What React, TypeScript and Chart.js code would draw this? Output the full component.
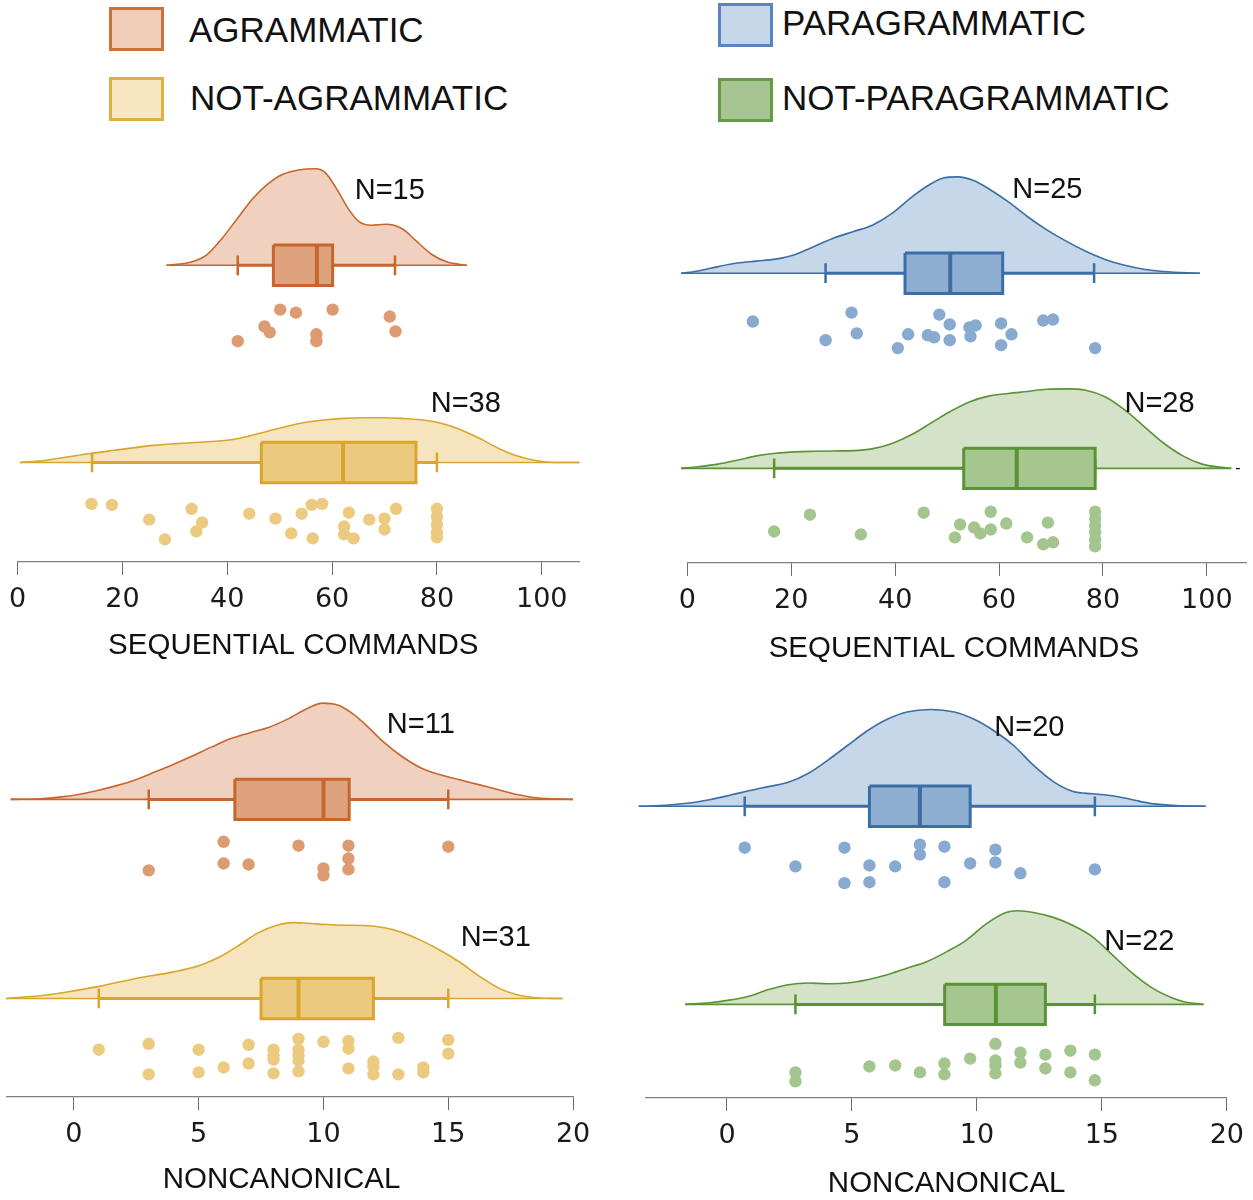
import React, { useEffect, useRef } from 'react';
import { Chart, registerables } from 'chart.js';

Chart.register(...registerables);

// ---------------- tick labels & titles ----------------
const SEQ_TICKS = [0, 20, 40, 60, 80, 100];
const NONCAN_TICKS = [0, 5, 10, 15, 20];
const SEQ_TITLE = 'SEQUENTIAL COMMANDS';
const NONCAN_TITLE = 'NONCANONICAL';
const LEGEND_LABELS = ['AGRAMMATIC', 'NOT-AGRAMMATIC', 'PARAGRAMMATIC', 'NOT-PARAGRAMMATIC'];

// ---------------- Agrammatic – sequential commands (N=15) ----------------
const agSeqN = 'N=15';
const agSeqDensX = [28.4, 33.1, 36.1, 39.0, 41.9, 44.8, 47.7, 50.6, 53.6, 56.9, 58.7, 60.9, 63.1, 65.2, 67.4, 70.3, 73.3, 76.2, 79.1, 82.0, 85.7];
const agSeqDensH = [0, 3.3, 10.7, 27.3, 47.3, 67.3, 82.3, 92.3, 96.7, 98, 94, 77.3, 57.3, 44, 40.7, 41.7, 37.3, 24, 10.7, 3.3, 0];
const agSeqBox = [42.0, 48.8, 57.1, 60.1, 72.0]; // min, q1, median, q3, max
const agSeqDots = [50.1, 53.1, 60.1, 71.0, 47.1, 48.1, 42.0, 57.0, 57.0, 72.1];
const agSeqJitter = [45, 48, 45, 52, 62, 68, 77, 70, 77, 67];

// ---------------- Not-agrammatic – sequential commands (N=38) ----------------
const notAgSeqN = 'N=38';
const notAgSeqDensX = [0.44, 3.9, 7.6, 14.2, 18.5, 25.8, 33.1, 40.4, 44.1, 47.7, 51.4, 55.0, 58.7, 62.3, 66.0, 69.6, 73.3, 76.9, 80.6, 84.2, 87.9, 91.5, 95.2, 98.8, 102.5, 107.2];
const notAgSeqDensH = [0, 1.3, 4, 9.3, 12.3, 17.3, 20, 22.7, 26.7, 31.7, 36.7, 40.7, 43.3, 44.7, 45.3, 45.3, 44.7, 43.3, 40, 34, 25, 15, 6.7, 2, 0, 0];
const notAgSeqBox = [14.2, 46.5, 62.1, 76.0, 80.0];
const notAgSeqDots = [14.1, 18.0, 25.1, 28.1, 33.2, 35.2, 34.1, 44.2, 49.2, 52.2, 54.2, 56.1, 58.1, 56.3, 62.3, 62.3, 63.2, 64.1, 67.1, 70.0, 70.0, 72.2, 80, 80, 80, 80, 80];
const notAgSeqJitter = [42, 43, 58, 78, 47, 61, 70, 52, 57, 72, 52, 43, 42, 77, 65, 73, 51, 77, 58, 57, 68, 47, 47, 55, 63, 71, 76];

// ---------------- Paragrammatic – sequential commands (N=25) ----------------
const paraSeqN = 'N=25';
const paraSeqDensX = [-1.22, 2.1, 5.9, 9.6, 13.3, 17.0, 20.8, 24.5, 28.2, 32.0, 35.7, 39.4, 43.2, 46.9, 49.1, 52.1, 55.1, 58.0, 61.8, 65.5, 69.2, 73.0, 76.7, 80.4, 84.2, 87.9, 91.6, 98.7];
const paraSeqDensH = [0, 2.3, 6.7, 10.3, 12.3, 14.3, 19, 27.3, 35.7, 42.3, 49, 60.7, 77.3, 90.7, 96.3, 97.7, 94, 85.7, 72.3, 57.3, 44, 32.3, 22.3, 14, 8, 4, 1.7, 0];
const paraSeqBox = [26.6, 41.9, 50.6, 60.7, 78.3];
const paraSeqDots = [12.6, 31.6, 32.6, 26.6, 40.5, 42.5, 46.3, 47.5, 48.5, 50.5, 50.5, 54.3, 55.5, 54.5, 60.4, 62.4, 60.4, 68.5, 70.4, 78.5];
const paraSeqJitter = [49, 40, 61, 68, 76, 62, 63, 65, 42, 52, 68, 55, 53, 64, 51, 62, 73, 48, 47, 76];

// ---------------- Not-paragrammatic – sequential commands (N=28) ----------------
const notParaSeqN = 'N=28';
const notParaSeqDensX = [-1.22, 2.1, 5.9, 9.6, 13.3, 17.0, 20.8, 24.5, 28.2, 32.0, 35.7, 39.4, 43.2, 46.9, 50.6, 54.4, 58.0, 61.8, 65.5, 69.2, 73.0, 76.7, 80.4, 84.2, 87.9, 91.6, 95.4, 99.1, 102.8, 104.7];
const notParaSeqDensH = [0, 1.7, 4.3, 8.3, 12.7, 15.3, 16.7, 17.3, 17.7, 18, 20, 25.3, 34.3, 46, 57.7, 67.7, 73.3, 76, 78, 80.3, 80.7, 79.3, 72.7, 59.3, 42.7, 26, 12.7, 4.3, 1, 0];
const notParaSeqBox = [16.7, 53.2, 63.4, 78.5, 78.5];
const notParaSeqDots = [16.7, 23.6, 33.4, 45.5, 52.5, 51.5, 55.2, 56.4, 58.4, 58.4, 61.4, 65.4, 69.4, 68.5, 70.4, 78.5, 78.5, 78.5, 78.5, 78.5, 78.5];
const notParaSeqJitter = [64, 47, 67, 45, 57, 70, 60, 66, 44, 62, 56, 70, 55, 77, 75, 44, 51, 58, 65, 72, 79];

// ---------------- Agrammatic – noncanonical (N=11) ----------------
const agNonN = 'N=11';
const agNonDensX = [-2.53, -1.34, -0.58, 0.19, 0.95, 1.71, 2.48, 3.24, 4.0, 4.77, 5.53, 6.29, 7.06, 7.82, 8.58, 9.35, 9.96, 10.57, 11.18, 11.79, 12.4, 13.16, 13.93, 14.69, 15.45, 16.22, 16.98, 17.75, 18.51, 19.99];
const agNonDensH = [0, 0.7, 2.3, 5, 9, 14, 20, 27.7, 35.7, 44.3, 53.3, 61.7, 67.7, 73.3, 81.7, 92.3, 97.7, 95.7, 86.7, 73.3, 58.3, 43.3, 31.7, 25, 20, 15, 10, 5, 1.7, 0];
const agNonBox = [3, 6.45, 10, 11.03, 15];
const agNonDots = [6, 6, 3, 7, 9, 10, 10, 11, 11, 11, 15];
const agNonJitter = [43, 65, 72, 66, 47, 70, 77, 47, 60, 71, 48];

// ---------------- Not-agrammatic – noncanonical (N=31) ----------------
const notAgNonN = 'N=31';
const notAgNonDensX = [-2.72, -1.34, -0.58, 0.95, 2.48, 4.0, 5.07, 5.83, 6.6, 7.36, 8.13, 8.74, 9.35, 10.11, 10.87, 11.64, 12.4, 13.16, 13.93, 14.69, 15.45, 16.22, 16.98, 17.75, 18.51, 19.58];
const notAgNonDensH = [0, 2.7, 5.3, 12, 20.3, 27, 33.7, 42, 53.7, 66.3, 74.3, 77, 76.3, 75, 74.3, 74, 72, 67, 58.7, 48.7, 37, 23, 11, 3.7, 0.7, 0];
const notAgNonBox = [1, 7.5, 9, 12, 15];
const notAgNonDots = [1, 3, 3, 5, 5, 6, 7, 7, 8, 8, 8, 8, 9, 9, 9, 9, 9, 10, 11, 11, 11, 12, 12, 12, 13, 13, 14, 14, 15, 15];
const notAgNonJitter = [52, 46, 77, 52, 75, 70, 47, 66, 52, 58, 62, 76, 41, 52, 58, 63, 74, 44, 43, 51, 71, 64, 69, 77, 40, 77, 70, 75, 42, 56];

// ---------------- Paragrammatic – noncanonical (N=20) ----------------
const paraNonN = 'N=20';
const paraNonDensX = [-3.53, -2.3, -1.51, -0.71, 0.08, 0.87, 1.66, 2.45, 3.24, 4.03, 4.82, 5.62, 6.41, 7.2, 8.15, 9.1, 9.89, 10.68, 11.47, 12.26, 13.06, 13.85, 14.64, 15.43, 16.22, 17.01, 17.96, 19.15];
const paraNonDensH = [0, 1.3, 3.3, 6.7, 11, 15.7, 20, 24.3, 33.3, 46.7, 61.7, 76.7, 88.3, 95.7, 98.3, 95.7, 88.3, 76.7, 61.7, 41.7, 25, 15, 12.7, 10.7, 6.7, 2.7, 0.7, 0];
const paraNonBox = [0.71, 5.7, 7.72, 9.73, 14.72];
const paraNonDots = [0.71, 2.74, 4.7, 4.7, 5.7, 5.7, 6.73, 7.72, 7.72, 8.7, 8.7, 9.73, 10.74, 10.74, 11.74, 14.72];
const paraNonJitter = [42, 61, 42, 78, 60, 77, 61, 39, 49, 41, 77, 58, 44, 57, 68, 64];

// ---------------- Not-paragrammatic – noncanonical (N=22) ----------------
const notParaNonN = 'N=22';
const notParaNonDensX = [-1.67, -0.71, 0.08, 0.87, 1.66, 2.45, 3.24, 4.03, 4.82, 5.62, 6.41, 7.2, 7.99, 8.78, 9.57, 10.37, 11.16, 11.63, 12.26, 13.06, 13.85, 14.64, 15.43, 16.22, 17.01, 17.8, 18.28, 19.07];
const notParaNonDensH = [0, 1.7, 4.3, 8.3, 15, 20, 21.7, 21, 21.7, 25, 30, 36.7, 43.3, 53.3, 65, 81.7, 93.3, 95, 93.3, 88.3, 80, 68.3, 50, 31.7, 16.7, 6.7, 2.7, 0];
const notParaNonBox = [2.74, 8.71, 10.76, 12.74, 14.72];
const notParaNonDots = [2.74, 2.74, 5.7, 6.73, 7.72, 8.7, 8.7, 9.73, 10.74, 10.74, 10.74, 10.74, 11.74, 11.74, 12.74, 12.74, 13.74, 13.74, 14.72, 14.72];
const notParaNonJitter = [69, 78, 63, 62, 69, 60, 71, 55, 40, 57, 62, 70, 49, 59, 51, 65, 47, 69, 51, 77];

// ---------------- styles ----------------
const ORANGE = { line: '#c6662d', dens: '#f0d1bf', box: '#dea27c', dot: '#dd9b71', legFill: '#f0cdb9', legBorder: '#c87439' };
const YELLOW = { line: '#d9a62b', dens: '#f6e4bd', box: '#ebca7f', dot: '#eccb80', legFill: '#f7e6c0', legBorder: '#ddb240' };
const BLUE = { line: '#3b6ea6', dens: '#c6d7e9', box: '#8fafd2', dot: '#88a9d0', legFill: '#c6d7ea', legBorder: '#5686bb' };
const GREEN = { line: '#5b9236', dens: '#d4e3c8', box: '#a6c690', dot: '#a5c58f', legFill: '#a7c592', legBorder: '#649b48' };

const TEXT_FONT = '"Liberation Sans", Arial, sans-serif';
const BOX_HALF = 20.5;
const CAP_HALF = 10;

type Group = { n: string; densX: number[]; densH: number[]; box: number[]; dots: number[]; jitter: number[] };
const G = (n: string, densX: number[], densH: number[], box: number[], dots: number[], jitter: number[]): Group => ({ n, densX, densH, box, dots, jitter });

const PANELS = [
  {
    left: 0, top: 130, width: 626, height: 542, axisY: 562, areaLeft: 17.6, areaRight: 579.5, xMin: 0, xMax: 107.2,
    ticks: SEQ_TICKS, title: SEQ_TITLE, titleX: 52.6, titleY: 647,
    rows: [
      { g: G(agSeqN, agSeqDensX, agSeqDensH, agSeqBox, agSeqDots, agSeqJitter), base: 261, c: ORANGE, nx: 71.0, ny: 186 },
      { g: G(notAgSeqN, notAgSeqDensX, notAgSeqDensH, notAgSeqBox, notAgSeqDots, notAgSeqJitter), base: 461, c: YELLOW, nx: 85.5, ny: 402 },
    ],
    extra: [] as any[],
  },
  {
    left: 626, top: 130, width: 627, height: 542, axisY: 563, areaLeft: 687.4, areaRight: 1252, xMin: 0, xMax: 107.7,
    ticks: SEQ_TICKS, title: SEQ_TITLE, titleX: 51.3, titleY: 650,
    rows: [
      { g: G(paraSeqN, paraSeqDensX, paraSeqDensH, paraSeqBox, paraSeqDots, paraSeqJitter), base: 269, c: BLUE, nx: 69.3, ny: 185 },
      { g: G(notParaSeqN, notParaSeqDensX, notParaSeqDensH, notParaSeqBox, notParaSeqDots, notParaSeqJitter), base: 467, c: GREEN, nx: 90.9, ny: 402 },
    ],
    extra: [{ text: '-', x: 106, y: 467, size: 16, sx: 1 }],
  },
  {
    left: 0, top: 672, width: 626, height: 528, axisY: 1097, areaLeft: 4, areaRight: 573.1, xMin: -2.71, xMax: 20,
    ticks: NONCAN_TICKS, title: NONCAN_TITLE, titleX: 8.32, titleY: 1181,
    rows: [
      { g: G(agNonN, agNonDensX, agNonDensH, agNonBox, agNonDots, agNonJitter), base: 795, c: ORANGE, nx: 13.9, ny: 719 },
      { g: G(notAgNonN, notAgNonDensX, notAgNonDensH, notAgNonBox, notAgNonDots, notAgNonJitter), base: 997, c: YELLOW, nx: 16.9, ny: 936 },
    ],
    extra: [] as any[],
  },
  {
    left: 626, top: 672, width: 627, height: 528, axisY: 1098, areaLeft: 646, areaRight: 1229.4, xMin: -3.24, xMax: 20,
    ticks: NONCAN_TICKS, title: NONCAN_TITLE, titleX: 8.79, titleY: 1185,
    rows: [
      { g: G(paraNonN, paraNonDensX, paraNonDensH, paraNonBox, paraNonDots, paraNonJitter), base: 802, c: BLUE, nx: 12.1, ny: 723 },
      { g: G(notParaNonN, notParaNonDensX, notParaNonDensH, notParaNonBox, notParaNonDots, notParaNonJitter), base: 1003, c: GREEN, nx: 16.5, ny: 940 },
    ],
    extra: [] as any[],
  },
];

function rowDatasets(g: Group, base: number, c: typeof ORANGE): any[] {
  const [mn, q1, md, q3, mx] = g.box;
  const common = { type: 'line', pointRadius: 0, pointHoverRadius: 0, clip: false, tension: 0 };
  const last = g.densX.length - 1;
  return [
    {
      type: 'scatter', data: g.dots.map((x, i) => ({ x, y: base + g.jitter[i] })),
      pointRadius: 6.2, pointHoverRadius: 6.2, backgroundColor: c.dot, borderWidth: 0, order: 1, clip: false,
    },
    { ...common, data: [{ x: md, y: base - BOX_HALF }, { x: md, y: base + BOX_HALF }], borderColor: c.line, borderWidth: 4, order: 2 },
    {
      ...common,
      data: [{ x: q1, y: base - BOX_HALF }, { x: q3, y: base - BOX_HALF }, { x: q3, y: base + BOX_HALF }, { x: q1, y: base + BOX_HALF }, { x: q1, y: base - BOX_HALF }],
      borderColor: c.line, backgroundColor: c.box, fill: 'shape', borderWidth: 3, borderJoinStyle: 'miter', order: 3,
    },
    {
      ...common,
      data: [{ x: mn, y: base - CAP_HALF }, { x: mn, y: base + CAP_HALF }, { x: mn, y: null }, { x: mx, y: base - CAP_HALF }, { x: mx, y: base + CAP_HALF }],
      borderColor: c.line, borderWidth: 2.5, spanGaps: false, order: 4,
    },
    { ...common, data: [{ x: mn, y: base }, { x: mx, y: base }], borderColor: c.line, borderWidth: 3, order: 5 },
    { ...common, data: [{ x: g.densX[0], y: base }, { x: g.densX[last], y: base }], borderColor: c.line, borderWidth: 1.6, order: 6 },
    {
      ...common, data: g.densX.map((x, i) => ({ x, y: base - g.densH[i] })),
      borderColor: c.line, backgroundColor: c.dens, fill: { value: base }, borderWidth: 1.6,
      cubicInterpolationMode: 'monotone', order: 7,
    },
  ];
}

const textPlugin = {
  id: 'panelText',
  afterDatasetsDraw(chart: any, _args: any, opts: any) {
    const { ctx, scales } = chart;
    for (const t of opts.items || []) {
      const x = scales.x.getPixelForValue(t.x);
      const y = scales.y.getPixelForValue(t.y);
      ctx.save();
      ctx.translate(x, y);
      ctx.scale(t.sx || 1, 1);
      ctx.font = `${t.size}px ${TEXT_FONT}`;
      ctx.fillStyle = '#111';
      ctx.textAlign = 'center';
      ctx.textBaseline = 'middle';
      ctx.fillText(t.text, 0, 0);
      ctx.restore();
    }
  },
};

function Panel({ p }: { p: (typeof PANELS)[number] }) {
  const ref = useRef<HTMLCanvasElement | null>(null);
  useEffect(() => {
    if (!ref.current) return;
    const datasets: any[] = [];
    p.rows.forEach((r) => datasets.push(...rowDatasets(r.g, r.base, r.c)));
    const items: any[] = [
      ...p.rows.map((r) => ({ text: r.g.n, x: r.nx, y: r.ny, size: 29, sx: 1 })),
      { text: p.title, x: p.titleX, y: p.titleY, size: 29.5, sx: 1 },
      ...p.extra,
    ];
    const chart = new Chart(ref.current, {
      type: 'line',
      data: { datasets },
      plugins: [textPlugin],
      options: {
        animation: false,
        responsive: false,
        devicePixelRatio: 1,
        events: [],
        layout: { padding: { left: p.areaLeft - p.left, right: p.left + p.width - p.areaRight, top: 0, bottom: 0 } },
        plugins: { legend: { display: false }, tooltip: { enabled: false }, panelText: { items } } as any,
        scales: {
          x: {
            type: 'linear', min: p.xMin, max: p.xMax,
            afterBuildTicks: (s: any) => { s.ticks = p.ticks.map((v) => ({ value: v })); },
            afterFit: (s: any) => { s.height = p.top + p.height - p.axisY; },
            grid: { drawOnChartArea: false, drawTicks: true, tickLength: 13, color: '#6b6b6b', lineWidth: 1 },
            border: { display: true, color: '#808080', width: 1.2 },
            ticks: { font: { family: '"DejaVu Sans", sans-serif', size: 27 }, color: '#1a1a1a', padding: 9, maxRotation: 0, autoSkip: false },
          },
          y: { type: 'linear', display: false, min: p.top, max: p.axisY, reverse: true },
        },
      } as any,
    });
    return () => chart.destroy();
  }, []);
  return (
    <canvas
      ref={ref}
      width={p.width}
      height={p.height}
      style={{ position: 'absolute', left: p.left, top: p.top, width: p.width, height: p.height }}
    />
  );
}

const LEGEND = [
  { label: LEGEND_LABELS[0], c: ORANGE, boxLeft: 109, boxTop: 7, textLeft: 189, cy: 30 },
  { label: LEGEND_LABELS[1], c: YELLOW, boxLeft: 109, boxTop: 77, textLeft: 190, cy: 98 },
  { label: LEGEND_LABELS[2], c: BLUE, boxLeft: 718, boxTop: 3, textLeft: 782, cy: 23 },
  { label: LEGEND_LABELS[3], c: GREEN, boxLeft: 718, boxTop: 78, textLeft: 782, cy: 98 },
];

export default function App() {
  return (
    <div style={{ position: 'absolute', left: 0, top: 0, width: 1253, height: 1200, background: '#fff', overflow: 'hidden' }}>
      {LEGEND.map((l) => (
        <React.Fragment key={l.label}>
          <div
            style={{
              position: 'absolute', left: l.boxLeft, top: l.boxTop, width: 55, height: 44, boxSizing: 'border-box',
              border: `3px solid ${l.c.legBorder}`, background: l.c.legFill,
            }}
          />
          <div
            style={{
              position: 'absolute', left: l.textLeft, top: l.cy - 20, height: 40, lineHeight: '40px',
              fontFamily: TEXT_FONT, fontSize: 35, color: '#111', whiteSpace: 'nowrap',
            }}
          >
            {l.label}
          </div>
        </React.Fragment>
      ))}
      {PANELS.map((p, i) => (
        <Panel key={i} p={p} />
      ))}
    </div>
  );
}
